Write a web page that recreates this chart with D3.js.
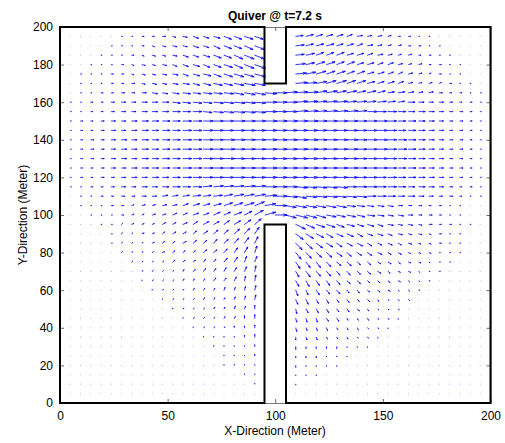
<!DOCTYPE html>
<html>
<head>
<meta charset="utf-8">
<title>Quiver @ t=7.2 s</title>
<style>
    body { margin: 0; background: #fff; }
    text { font-family: "Liberation Sans", Arial, sans-serif; }
</style>
<script src="https://cdn.jsdelivr.net/npm/d3@7"></script>
</head>
<body>
<script>

    var width = 505,
        height = 443

    // grid of the velocity field (meters)
    var xGrid = [4.76, 9.52, 14.29, 19.05, 23.81, 28.57, 33.33, 38.10, 42.86, 47.62,
        52.38, 57.14, 61.90, 66.67, 71.43, 76.19, 80.95, 85.71, 90.48, 95.24,
        100.00, 104.76, 109.52, 114.29, 119.05, 123.81, 128.57, 133.33, 138.10, 142.86,
        147.62, 152.38, 157.14, 161.90, 166.67, 171.43, 176.19, 180.95, 185.71, 190.48, 195.24]
    var yGrid = [195, 190, 185, 180, 175, 170, 165, 160, 155, 150, 145, 140, 135, 130, 125,
        120, 115, 110, 105, 100, 95, 90, 85, 80, 75, 70, 65, 60, 55, 50,
        45, 40, 35, 30, 25, 20, 15, 10, 5]

    // obstacles: two walls between x=95 and x=105
    var wallX = [95, 105],
        topWallY = [170, 200],
        bottomWallY = [0, 95]

    var xTicks = [0, 50, 100, 150, 200],
        yTicks = [0, 20, 40, 60, 80, 100, 120, 140, 160, 180, 200]

    // u, v per row (top row first), 1 unit = 0.5 m of arrow
    var uRows = [
        [0,0,0,0,0,1,1,2,2,3,3,4,5,5,6,7,7,8,8, 0,0,0, 7,7,6,6,6,5,5,4,4,3,2,2,1,1,0,0,0,0,0],
        [0,0,0,0,1,1,1,2,2,3,4,4,5,5,6,7,7,8,9, 0,0,0, 8,7,7,7,6,6,5,5,4,3,3,2,2,1,1,0,0,0,0],
        [0,0,0,1,1,1,2,2,3,3,4,5,5,6,7,7,8,9,9, 0,0,0, 8,8,7,7,7,6,6,5,5,4,3,3,2,2,1,1,0,0,0],
        [0,0,1,1,1,2,2,3,3,4,4,5,6,6,7,8,8,9,10, 0,0,0, 9,8,8,8,7,7,6,6,5,5,4,3,3,2,2,1,1,0,0],
        [0,1,1,1,2,2,2,3,3,4,5,5,6,7,7,8,9,9,10, 0,0,0, 10,9,9,8,8,7,7,6,6,5,4,4,3,2,2,1,1,0,0],
        [0,1,1,1,2,2,3,3,4,4,5,6,6,7,8,8,9,10,10, 0,0,0, 11,10,10,9,9,8,8,7,6,6,5,4,3,3,2,2,1,1,0],
        [0,1,1,2,2,3,3,4,5,5,6,7,7,8,8,9,9,10,10, 11,11,11, 11,11,10,10,9,9,8,8,7,6,6,5,4,4,3,2,2,1,1],
        [1,1,2,2,3,4,4,5,5,6,7,7,8,8,9,9,10,10,10, 11,11,11, 11,11,10,10,10,9,9,8,8,7,6,6,5,4,4,3,2,2,1],
        [1,1,2,2,3,4,4,5,5,6,7,7,8,8,9,9,10,10,10, 11,11,11, 11,11,10,10,10,10,9,9,8,8,7,6,6,5,4,3,3,2,1],
        [1,2,2,3,4,4,5,6,6,7,7,8,8,9,9,9,10,10,10, 11,11,11, 11,11,10,10,10,10,9,9,9,8,7,7,6,5,4,3,3,2,1],
        [1,2,2,3,4,4,5,6,6,7,7,8,8,9,9,9,10,10,10, 11,11,11, 11,11,10,10,10,10,9,9,9,8,7,7,6,5,4,3,3,2,1],
        [1,2,3,3,4,5,5,6,6,7,7,8,8,9,9,10,10,10,10, 11,11,11, 11,11,10,10,10,10,9,9,9,8,8,7,6,5,4,3,3,2,1],
        [1,2,3,3,4,5,5,6,6,7,7,8,8,9,9,10,10,10,10, 11,11,11, 11,11,10,10,10,10,9,9,9,8,8,7,6,5,4,3,3,2,1],
        [1,2,3,3,4,5,5,6,6,7,7,8,8,9,9,10,10,10,10, 11,11,11, 11,11,10,10,10,10,9,9,9,8,8,7,6,5,4,3,3,2,1],
        [1,2,2,3,4,4,5,6,6,7,7,8,8,9,9,9,10,10,10, 11,11,11, 11,11,10,10,10,10,9,9,9,8,7,7,6,5,4,3,3,2,1],
        [1,2,2,3,3,4,5,5,6,6,7,8,8,9,9,9,10,10,10, 11,11,11, 11,11,10,10,10,10,9,9,8,8,7,7,6,5,4,3,3,2,1],
        [1,1,2,2,3,4,4,5,5,6,7,7,8,8,9,9,9,10,10, 11,11,11, 11,10,10,10,10,9,9,9,8,8,7,6,6,5,4,3,2,2,1],
        [0,1,1,2,2,3,3,4,4,5,5,6,7,7,8,8,9,9,10, 11,11,11, 10,10,10,10,9,9,9,8,8,7,6,6,5,4,3,3,2,1,1],
        [0,1,1,1,2,2,2,3,3,4,4,5,6,6,7,8,8,9,9, 10,11,10, 10,10,9,9,9,8,7,6,6,5,4,3,3,2,2,1,1,0,0],
        [0,0,1,1,1,2,2,2,3,3,4,4,5,5,6,6,7,7,8, 10,11,10, 11,10,9,9,8,8,7,7,6,5,5,4,3,3,2,1,1,0,0],
        [0,0,0,1,1,1,2,2,2,3,3,4,4,5,5,5,6,6,6, 0,0,0, 9,8,8,8,7,7,6,6,5,5,4,4,3,3,2,2,1,1,0],
        [0,0,0,0,1,1,1,2,2,2,3,3,3,4,4,4,5,5,4, 0,0,0, 7,7,7,6,6,6,5,5,5,4,4,3,3,2,2,1,1,0,0],
        [0,0,0,0,1,1,1,1,2,2,2,3,3,3,3,4,4,4,3, 0,0,0, 6,6,6,6,5,5,5,4,4,4,3,3,2,2,2,1,1,0,0],
        [0,0,0,0,0,1,1,1,1,2,2,2,2,3,3,3,3,3,2, 0,0,0, 5,5,5,5,5,4,4,4,4,3,3,2,2,2,1,1,1,0,0],
        [0,0,0,0,0,0,1,1,1,1,2,2,2,2,2,3,3,2,2, 0,0,0, 4,4,4,4,4,4,3,3,3,3,2,2,2,1,1,1,0,0,0],
        [0,0,0,0,0,0,0,1,1,1,1,1,2,2,2,2,2,2,1, 0,0,0, 3,4,4,4,3,3,3,3,3,2,2,2,1,1,1,0,0,0,0],
        [0,0,0,0,0,0,0,0,1,1,1,1,1,1,2,2,2,1,1, 0,0,0, 3,3,3,3,3,3,3,2,2,2,2,1,1,1,0,0,0,0,0],
        [0,0,0,0,0,0,0,0,0,1,1,1,1,1,1,1,1,1,1, 0,0,0, 2,2,3,3,3,2,2,2,2,2,1,1,1,0,0,0,0,0,0],
        [0,0,0,0,0,0,0,0,0,0,1,1,1,1,1,1,1,1,1, 0,0,0, 2,2,2,2,2,2,2,2,1,1,1,1,0,0,0,0,0,0,0],
        [0,0,0,0,0,0,0,0,0,0,0,1,1,1,1,1,1,1,0, 0,0,0, 1,2,2,2,2,2,2,1,1,1,1,0,0,0,0,0,0,0,0],
        [0,0,0,0,0,0,0,0,0,0,0,0,1,1,1,1,1,0,0, 0,0,0, 1,1,1,2,2,1,1,1,1,1,0,0,0,0,0,0,0,0,0],
        [0,0,0,0,0,0,0,0,0,0,0,0,0,1,1,1,0,0,0, 0,0,0, 1,1,1,1,1,1,1,1,1,0,0,0,0,0,0,0,0,0,0],
        [0,0,0,0,0,0,0,0,0,0,0,0,0,0,0,0,0,0,0, 0,0,0, 0,1,1,1,1,1,1,1,0,0,0,0,0,0,0,0,0,0,0],
        [0,0,0,0,0,0,0,0,0,0,0,0,0,0,0,0,0,0,0, 0,0,0, 0,0,0,0,0,0,0,0,0,0,0,0,0,0,0,0,0,0,0],
        [0,0,0,0,0,0,0,0,0,0,0,0,0,0,0,0,0,0,0, 0,0,0, 0,0,0,0,0,0,0,0,0,0,0,0,0,0,0,0,0,0,0],
        [0,0,0,0,0,0,0,0,0,0,0,0,0,0,0,0,0,0,0, 0,0,0, 0,0,0,0,0,0,0,0,0,0,0,0,0,0,0,0,0,0,0],
        [0,0,0,0,0,0,0,0,0,0,0,0,0,0,0,0,0,0,0, 0,0,0, 0,0,0,0,0,0,0,0,0,0,0,0,0,0,0,0,0,0,0],
        [0,0,0,0,0,0,0,0,0,0,0,0,0,0,0,0,0,0,0, 0,0,0, 0,0,0,0,0,0,0,0,0,0,0,0,0,0,0,0,0,0,0],
        [0,0,0,0,0,0,0,0,0,0,0,0,0,0,0,0,0,0,0, 0,0,0, 0,0,0,0,0,0,0,0,0,0,0,0,0,0,0,0,0,0,0]
    ]
    var vRows = [
        [0,0,0,0,0,0,0,0,0,0,-1,-1,-2,-2,-2,-3,-3,-3,-3, 0,0,0, 1,2,2,2,2,2,1,1,1,1,0,0,0,0,0,0,0,0,0],
        [0,0,0,0,0,0,0,0,-1,-1,-1,-1,-2,-2,-3,-3,-3,-4,-4, 0,0,0, 1,2,2,2,2,2,2,1,1,1,1,0,0,0,0,0,0,0,0],
        [0,0,0,0,0,0,0,-1,-1,-1,-1,-2,-2,-2,-3,-3,-4,-4,-4, 0,0,0, 1,2,3,3,3,2,2,2,1,1,1,1,0,0,0,0,0,0,0],
        [0,0,0,0,0,0,-1,-1,-1,-1,-2,-2,-2,-3,-3,-3,-4,-4,-4, 0,0,0, 1,2,3,3,3,3,2,2,2,2,1,1,1,0,0,0,0,0,0],
        [0,0,0,0,0,0,-1,-1,-1,-1,-1,-2,-2,-2,-3,-3,-3,-3,-3, 0,0,0, 1,2,3,3,3,3,3,2,2,2,2,1,1,1,0,0,0,0,0],
        [0,0,0,0,0,0,0,-1,-1,-1,-1,-1,-2,-2,-2,-2,-2,-2,-2, 0,0,0, 1,1,2,3,3,3,3,2,2,2,2,1,1,1,1,0,0,0,0],
        [0,0,0,0,0,0,0,0,-1,-1,-1,-1,-1,-1,-1,-1,-2,-2,-2, -1,0,1, 1,1,2,2,2,2,2,2,2,1,1,1,1,1,0,0,0,0,0],
        [0,0,0,0,0,0,0,0,0,0,-1,-1,-1,-1,-1,-1,-1,-1,-1, 0,0,0, 1,1,1,1,1,1,1,1,1,1,1,0,0,0,0,0,0,0,0],
        [0,0,0,0,0,0,0,0,0,0,0,0,0,-1,-1,-1,-1,-1,-1, 0,0,0, 1,1,1,1,1,1,1,0,0,0,0,0,0,0,0,0,0,0,0],
        [0,0,0,0,0,0,0,0,0,0,0,0,0,0,0,0,0,0,0, 0,0,0, 0,0,0,0,0,0,0,0,0,0,0,0,0,0,0,0,0,0,0],
        [0,0,0,0,0,0,0,0,0,0,0,0,0,0,0,0,0,0,0, 0,0,0, 0,0,0,0,0,0,0,0,0,0,0,0,0,0,0,0,0,0,0],
        [0,0,0,0,0,0,0,0,0,0,0,0,0,0,0,0,0,0,0, 0,0,0, 0,0,0,0,0,0,0,0,0,0,0,0,0,0,0,0,0,0,0],
        [0,0,0,0,0,0,0,0,0,0,0,0,0,0,0,0,0,0,0, 0,0,0, 0,0,0,0,0,0,0,0,0,0,0,0,0,0,0,0,0,0,0],
        [0,0,0,0,0,0,0,0,0,0,0,0,0,0,0,0,0,0,0, 0,0,0, 0,0,0,0,0,0,0,0,0,0,0,0,0,0,0,0,0,0,0],
        [0,0,0,0,0,0,0,0,0,0,0,0,0,0,0,0,0,0,0, 0,0,0, 0,0,0,0,0,0,0,0,0,0,0,0,0,0,0,0,0,0,0],
        [0,0,0,0,0,0,0,0,0,0,0,0,0,0,0,0,0,0,0, 0,0,0, 0,0,0,0,0,0,0,0,0,0,0,0,0,0,0,0,0,0,0],
        [0,0,0,0,0,0,0,0,0,0,0,0,0,1,1,1,1,1,1, 0,0,0, -1,-1,-1,-1,-1,0,0,0,0,0,0,0,0,0,0,0,0,0,0],
        [0,0,0,0,0,0,0,0,0,1,1,1,1,1,1,2,2,2,2, 1,0,-1, -2,-1,-1,-1,-1,-1,-1,0,0,0,0,0,0,0,0,0,0,0,0],
        [0,0,0,0,0,0,1,1,1,1,1,2,2,2,2,3,3,3,4, 2,0,-2, -2,-2,-2,-2,-2,-1,-1,-1,-1,-1,0,0,0,0,0,0,0,0,0],
        [0,0,0,0,0,0,1,1,1,1,2,2,2,2,3,3,3,4,5, 3,0,-3, -3,-3,-3,-2,-2,-2,-2,-1,-1,-1,-1,0,0,0,0,0,0,0,0],
        [0,0,0,0,0,1,1,1,1,2,2,2,3,3,3,4,4,5,6, 0,0,0, -5,-4,-3,-3,-3,-2,-2,-2,-2,-1,-1,-1,-1,0,0,0,0,0,0],
        [0,0,0,0,0,1,1,1,1,2,2,2,3,3,4,4,5,6,7, 0,0,0, -6,-5,-4,-4,-3,-3,-3,-2,-2,-2,-1,-1,-1,-1,0,0,0,0,0],
        [0,0,0,0,0,1,1,1,1,2,2,2,3,3,4,4,5,6,7, 0,0,0, -7,-6,-5,-4,-4,-3,-3,-3,-2,-2,-2,-1,-1,-1,0,0,0,0,0],
        [0,0,0,0,0,1,1,1,1,1,2,2,2,3,3,4,5,6,7, 0,0,0, -7,-6,-5,-5,-4,-4,-3,-3,-2,-2,-2,-1,-1,-1,0,0,0,0,0],
        [0,0,0,0,0,0,1,1,1,1,2,2,2,3,3,4,5,6,6, 0,0,0, -7,-6,-6,-5,-4,-4,-3,-3,-2,-2,-2,-1,-1,-1,0,0,0,0,0],
        [0,0,0,0,0,0,0,1,1,1,1,2,2,3,3,4,4,5,6, 0,0,0, -6,-6,-5,-5,-4,-4,-3,-3,-2,-2,-1,-1,-1,0,0,0,0,0,0],
        [0,0,0,0,0,0,0,1,1,1,1,2,2,2,3,3,4,5,6, 0,0,0, -6,-6,-5,-5,-4,-3,-3,-2,-2,-2,-1,-1,-1,0,0,0,0,0,0],
        [0,0,0,0,0,0,0,0,1,1,1,1,2,2,2,3,3,4,5, 0,0,0, -6,-5,-5,-4,-4,-3,-3,-2,-2,-1,-1,-1,0,0,0,0,0,0,0],
        [0,0,0,0,0,0,0,0,0,1,1,1,1,2,2,2,3,4,5, 0,0,0, -5,-5,-4,-4,-3,-3,-2,-2,-2,-1,-1,-1,0,0,0,0,0,0,0],
        [0,0,0,0,0,0,0,0,0,0,1,1,1,1,2,2,3,3,4, 0,0,0, -5,-4,-4,-4,-3,-3,-2,-2,-1,-1,-1,0,0,0,0,0,0,0,0],
        [0,0,0,0,0,0,0,0,0,0,0,1,1,1,1,2,2,3,4, 0,0,0, -4,-4,-4,-3,-3,-2,-2,-2,-1,-1,-1,0,0,0,0,0,0,0,0],
        [0,0,0,0,0,0,0,0,0,0,0,0,1,1,1,1,2,2,3, 0,0,0, -4,-3,-3,-3,-2,-2,-2,-1,-1,-1,0,0,0,0,0,0,0,0,0],
        [0,0,0,0,0,0,0,0,0,0,0,0,0,1,1,1,1,2,3, 0,0,0, -3,-3,-3,-2,-2,-2,-1,-1,-1,0,0,0,0,0,0,0,0,0,0],
        [0,0,0,0,0,0,0,0,0,0,0,0,0,0,1,1,1,1,2, 0,0,0, -3,-2,-2,-2,-2,-1,-1,-1,0,0,0,0,0,0,0,0,0,0,0],
        [0,0,0,0,0,0,0,0,0,0,0,0,0,0,0,1,1,1,2, 0,0,0, -2,-2,-2,-1,-1,-1,0,0,0,0,0,0,0,0,0,0,0,0,0],
        [0,0,0,0,0,0,0,0,0,0,0,0,0,0,0,1,1,1,1, 0,0,0, -2,-1,-1,-1,-1,0,0,0,0,0,0,0,0,0,0,0,0,0,0],
        [0,0,0,0,0,0,0,0,0,0,0,0,0,0,0,0,0,1,1, 0,0,0, -1,-1,-1,0,0,0,0,0,0,0,0,0,0,0,0,0,0,0,0],
        [0,0,0,0,0,0,0,0,0,0,0,0,0,0,0,0,0,0,1, 0,0,0, -1,0,0,0,0,0,0,0,0,0,0,0,0,0,0,0,0,0,0],
        [0,0,0,0,0,0,0,0,0,0,0,0,0,0,0,0,0,0,0, 0,0,0, 0,0,0,0,0,0,0,0,0,0,0,0,0,0,0,0,0,0,0]
    ]

    var arrowUnit = 0.5   // meters of arrow per unit of u / v

    var x = d3.scaleLinear().domain([0, 200]).range([60, 490.5])
    var y = d3.scaleLinear().domain([0, 200]).range([403, 27])

    var svg = d3.select('body').append('svg')
        .attr('width', width)
        .attr('height', height)

    function inWall(px, py) {
        return px > wallX[0] - 0.5 && px < wallX[1] + 0.5 &&
            (py <= bottomWallY[1] + 0.5 || py >= topWallY[0] - 0.5)
    }

    var points = []
    yGrid.forEach(function (gy, j) {
        xGrid.forEach(function (gx, i) {
            if (inWall(gx, gy)) return
            points.push({x: gx, y: gy, u: uRows[j][i] * arrowUnit, v: vRows[j][i] * arrowUnit})
        })
    })

    // thin axes box with inward ticks
    var axes = svg.append('g')
    axes.append('g').attr('transform', 'translate(0,403)')
        .call(d3.axisBottom(x).tickValues(xTicks).tickSizeInner(-4).tickSizeOuter(0).tickPadding(8))
    axes.append('g').attr('transform', 'translate(0,27)')
        .call(d3.axisTop(x).tickValues(xTicks).tickSizeInner(-4).tickSizeOuter(0).tickFormat(''))
    axes.append('g').attr('transform', 'translate(60,0)')
        .call(d3.axisLeft(y).tickValues(yTicks).tickSizeInner(-4).tickSizeOuter(0).tickPadding(7))
    axes.append('g').attr('transform', 'translate(490.5,0)')
        .call(d3.axisRight(y).tickValues(yTicks).tickSizeInner(-4).tickSizeOuter(0).tickFormat(''))
    axes.selectAll('.domain').attr('stroke', '#555').attr('stroke-width', 0.8)
    axes.selectAll('.tick line').attr('stroke', '#444').attr('stroke-width', 0.8)
    axes.selectAll('.tick text')
        .attr('fill', '#000')
        .style('font-family', '"Liberation Sans", Arial, sans-serif')
        .style('font-size', '12px')

    // the vectors
    var field = svg.append('g')
    field.selectAll('circle.dot').data(points).enter().append('circle')
        .attr('class', 'dot')
        .attr('cx', function (d) { return x(d.x) })
        .attr('cy', function (d) { return y(d.y) })
        .attr('r', 0.6)
        .attr('fill', '#6666ff')
        .attr('opacity', 0.5)

    function arrowPath(d) {
        var a = 0.33, b = 0.33
        var x1 = d.x + d.u, y1 = d.y + d.v
        var h1x = x1 - a * (d.u + b * d.v), h1y = y1 - a * (d.v - b * d.u)
        var h2x = x1 - a * (d.u - b * d.v), h2y = y1 - a * (d.v + b * d.u)
        return 'M' + x(d.x) + ',' + y(d.y) + 'L' + x(x1) + ',' + y(y1) +
            'M' + x(h1x) + ',' + y(h1y) + 'L' + x(x1) + ',' + y(y1) + 'L' + x(h2x) + ',' + y(h2y)
    }

    field.selectAll('path.arrow').data(points.filter(function (d) { return d.u !== 0 || d.v !== 0 }))
        .enter().append('path')
        .attr('class', 'arrow')
        .attr('d', arrowPath)
        .attr('fill', 'none')
        .attr('stroke', '#0000ff')
        .attr('stroke-width', 0.8)

    // domain outline with the two walls
    var outline = [[0, 0], [0, 200], [wallX[0], 200], [wallX[0], topWallY[0]], [wallX[1], topWallY[0]],
        [wallX[1], 200], [200, 200], [200, 0], [wallX[1], 0], [wallX[1], bottomWallY[1]],
        [wallX[0], bottomWallY[1]], [wallX[0], 0]]
    svg.append('path')
        .attr('d', d3.line().x(function (d) { return x(d[0]) }).y(function (d) { return y(d[1]) })(outline) + 'Z')
        .attr('fill', 'none')
        .attr('stroke', '#000')
        .attr('stroke-width', 2)
        .attr('stroke-linejoin', 'miter')

    svg.append('text')
        .attr('x', 275).attr('y', 20)
        .attr('text-anchor', 'middle')
        .style('font-size', '12px').style('font-weight', 'bold')
        .text('Quiver @ t=7.2 s')

    svg.append('text')
        .attr('x', 275).attr('y', 435)
        .attr('text-anchor', 'middle')
        .style('font-size', '12px')
        .text('X-Direction (Meter)')

    svg.append('text')
        .attr('transform', 'translate(27,215) rotate(-90)')
        .attr('text-anchor', 'middle')
        .style('font-size', '12px')
        .text('Y-Direction (Meter)')

</script>
</body>
</html>
